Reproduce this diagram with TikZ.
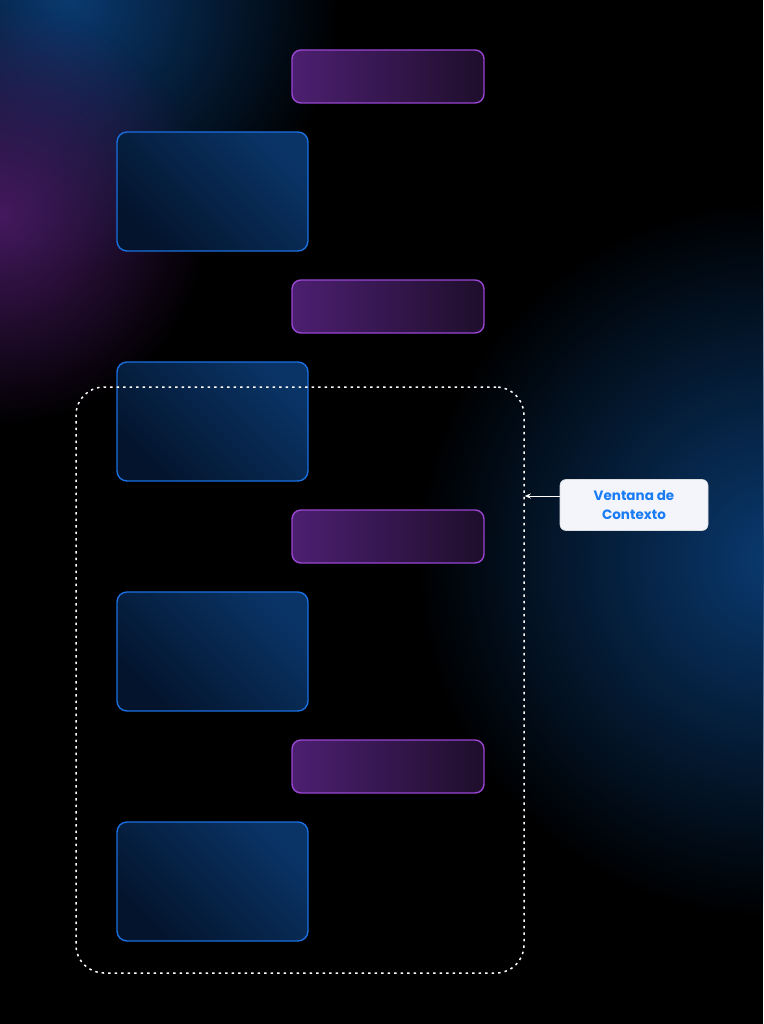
\documentclass[tikz,border=0pt]{standalone}
\usepackage{fontspec}
\setmainfont{Poppins}
\usetikzlibrary{fadings,arrows.meta,calc}

\definecolor{bgglowblue}{HTML}{0A3A70}
\definecolor{bgglowpurple}{HTML}{45195F}
\definecolor{msgpurple}{HTML}{4C1F70}
\definecolor{msgpurpledark}{HTML}{1E0E2B}
\definecolor{msgpurpleline}{HTML}{9A45D4}
\definecolor{msgblue}{HTML}{0A3466}
\definecolor{msgbluedark}{HTML}{03142C}
\definecolor{msgblueline}{HTML}{1A6FE0}
\definecolor{labelfill}{HTML}{F3F5FA}
\definecolor{labeltext}{HTML}{1A7CF5}

\tikzfading[name=glowfade, inner color=transparent!0, outer color=transparent!100]

\tikzset{
  usermsg/.style={rectangle, rounded corners=9pt, draw=msgpurpleline, line width=1.4pt,
    left color=msgpurple, right color=msgpurpledark,
    minimum width=192pt, minimum height=53pt, inner sep=0pt},
  botmsg/.style={rectangle, rounded corners=10pt, draw=msgblueline, line width=1.4pt,
    top color=msgblue, bottom color=msgbluedark, shading angle=-45,
    minimum width=191pt, minimum height=119pt, inner sep=0pt},
  ctxwin/.style={rectangle, rounded corners=28pt, draw=white, line width=1.5pt,
    dash pattern=on 2.5pt off 4pt, minimum width=448pt, minimum height=586pt, inner sep=0pt},
  ctxlabel/.style={rectangle, rounded corners=6pt, fill=labelfill, draw=labelfill!80!gray,
    line width=0.6pt, minimum width=148pt, minimum height=51pt, align=center,
    text=labeltext, font=\fontsize{13.5}{19}\selectfont\bfseries},
  pointer/.style={-{Stealth[length=6pt,width=5pt]}, draw=white, line width=1pt}
}

\begin{document}
\begin{tikzpicture}[x=1pt,y=-1pt]
   % background and glows
   \fill[black] (0,0) rectangle (763,1024);
   \useasboundingbox (0,0) rectangle (763,1024);
   \fill[bgglowblue, path fading=glowfade] (70,0) circle (270);
   \fill[bgglowpurple, path fading=glowfade] (0,215) circle (210);
   \fill[bgglowblue, path fading=glowfade] (775,560) circle (360);

   % messages
   \node[usermsg] (p1) at (388,76.5) {};
   \node[botmsg]  (b1) at (212.5,191.5) {};
   \node[usermsg] (p2) at (388,306.5) {};
   \node[botmsg]  (b2) at (212.5,421.5) {};
   \node[usermsg] (p3) at (388,536.5) {};
   \node[botmsg]  (b3) at (212.5,651.5) {};
   \node[usermsg] (p4) at (388,766.5) {};
   \node[botmsg]  (b4) at (212.5,881.5) {};

   % context window
   \node[ctxwin] (ctx) at (300,680) {};
   \node[ctxlabel] (lbl) at (634,505) {Ventana de\\Contexto};
   \coordinate (ptr) at (lbl.west |- 0,496);
   \draw[pointer] (ptr) -- (ctx.east |- ptr);
\end{tikzpicture}
\end{document}
